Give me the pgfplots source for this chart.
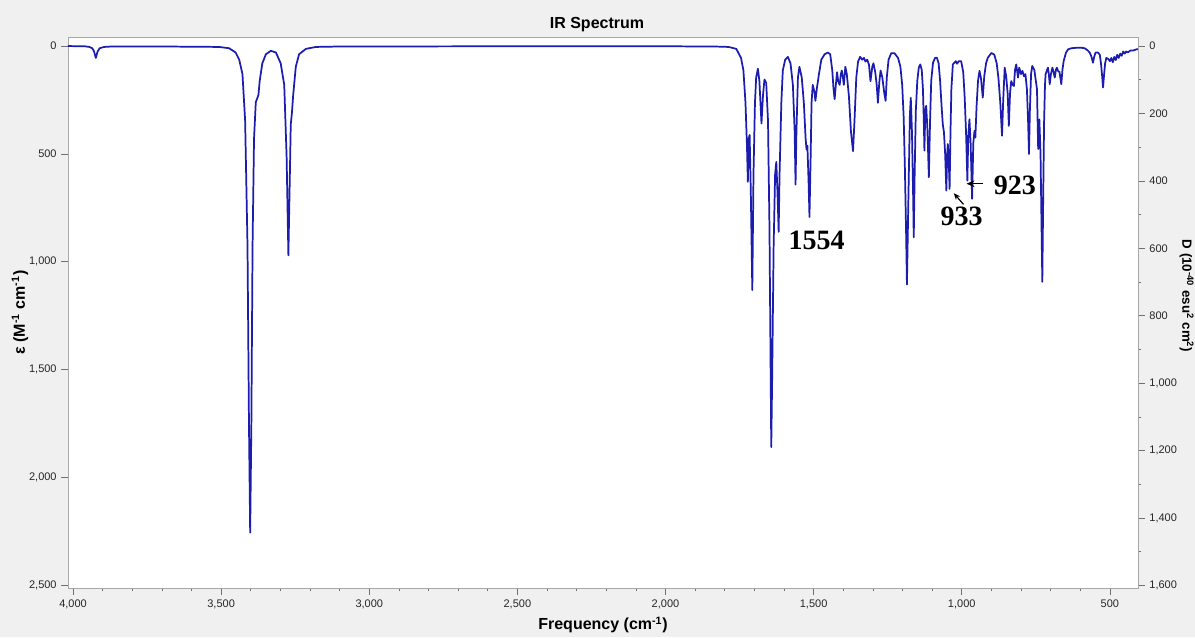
\documentclass[border=0pt]{standalone}
\usepackage{pgfplots}
\usepackage{pgfplotstable}
\pgfplotsset{compat=1.18}
\usepackage{fontspec}
\setmainfont{Liberation Sans}
\newfontfamily\annfont{Liberation Serif}
\usetikzlibrary{arrows.meta}
\definecolor{bg}{HTML}{F0F0F0}
\definecolor{spec}{HTML}{1C1CAE}
\definecolor{axgray}{HTML}{A8A8A8}
\definecolor{tickgray}{HTML}{707070}

\pgfplotstableread{
nu eps
4017 0
3960 1
3945 4
3935 10
3929 25
3925 45
3923 55
3921 45
3917 25
3910 10
3895 4
3870 2
3700 2
3600 3
3507 4
3473 10
3451 30
3439 63
3428 130
3419 346
3411 928
3406 1760
3402 2255
3398 1760
3394 928
3389 429
3383 260
3377 238
3374 226
3370 163
3361 80
3349 38
3332 22
3315 30
3299 80
3287 180
3279 512
3273 970
3268 595
3265 363
3261 309
3257 230
3248 96
3237 38
3214 13
3180 4
3100 2
2500 1
2000 1
1850 2
1800 3
1784 5
1761 13
1745 55
1737 113
1730 263
1725 462
1722 629
1719 429
1716 412
1712 678
1707 1131
1703 595
1698 263
1694 146
1688 105
1683 163
1676 359
1671 230
1666 155
1660 171
1654 346
1649 845
1643 1859
1640 1543
1635 928
1630 595
1626 537
1622 678
1618 861
1615 595
1609 263
1604 113
1596 63
1587 50
1578 80
1570 180
1564 396
1561 642
1558 396
1553 146
1548 96
1540 146
1533 263
1527 429
1524 479
1521 462
1517 629
1514 792
1510 512
1507 263
1503 180
1497 213
1494 254
1489 196
1482 130
1474 63
1463 38
1452 30
1444 38
1437 113
1433 196
1429 246
1426 196
1421 121
1417 163
1412 180
1408 130
1405 113
1401 146
1398 180
1393 96
1388 130
1381 230
1374 396
1367 487
1362 346
1356 146
1350 72
1343 50
1336 63
1330 55
1325 72
1319 63
1313 88
1308 163
1302 96
1298 80
1292 121
1287 180
1283 263
1278 163
1274 113
1268 146
1262 213
1257 254
1253 146
1247 63
1238 33
1227 33
1215 55
1207 96
1201 180
1196 330
1192 560
1188 850
1185 1105
1180 700
1175 316
1172 240
1168 400
1164 700
1162 886
1159 600
1155 300
1150 160
1145 100
1140 85
1135 110
1131 200
1128 350
1126 485
1123 300
1120 277
1116 380
1111 608
1107 350
1103 160
1097 77
1090 55
1084 54
1078 80
1073 162
1068 280
1064 362
1060 400
1056 500
1052 670
1049 500
1047 454
1044 520
1041 662
1038 400
1035 200
1030 85
1020 70
1016 82
1010 70
1002 70
995 120
990 239
985 420
981 624
978 420
974 339
970 450
965 708
961 450
957 393
954 424
950 280
945 160
940 115
935 150
929 239
924 140
918 80
912 54
900 32
890 40
882 80
876 150
870 260
864 416
860 250
855 100
850 140
845 220
841 370
837 220
833 162
828 180
824 185
820 110
816 85
810 146
806 100
800 130
795 115
790 140
785 130
780 200
776 350
773 500
770 300
766 130
762 92
755 110
750 160
746 200
744 340
742 477
738 340
734 500
730 900
728 1093
725 700
722 350
719 180
717 131
712 110
709 100
706 130
703 177
699 130
694 100
690 120
686 146
682 110
679 100
675 115
670 120
664 177
660 110
656 70
648 30
641 15
630 10
613 8
595 8
585 10
575 20
568 30
562 50
557 77
553 50
548 30
540 30
534 40
530 80
526 140
523 192
520 140
516 80
512 55
505 60
500 70
495 55
490 75
485 50
480 65
475 40
470 55
465 35
460 45
455 25
450 35
445 25
440 30
430 20
420 20
410 15
405 15
}\spectrum

\begin{document}
\begin{tikzpicture}
\fill[bg] (0,0) rectangle (896.25pt,477.75pt);
\useasboundingbox (0,0) rectangle (896.25pt,477.75pt);
\begin{axis}[
  at={(51pt,36.75pt)}, anchor=south west,
  scale only axis, width=802.5pt, height=413.25pt,
  x dir=reverse, y dir=reverse,
  xmin=405, xmax=4017, ymin=-42, ymax=2512,
  axis background/.style={fill=white},
  axis line style={draw=axgray, line width=0.6pt},
  xtick pos=left, ytick pos=left,
  tick align=outside,
  major tick length=5pt, minor tick length=2.5pt,
  tick style={draw=tickgray, line width=0.5pt},
  xtick={500,1000,...,4000}, minor x tick num=4,
  ytick={0,500,...,2500},
  tick label style={font=\fontsize{8.25}{10}\selectfont, text=black!85},
  /pgf/number format/1000 sep={,},
  /pgf/number format/assume math mode=true,
  xlabel={Frequency (cm\textsuperscript{-1})},
  xlabel style={font=\fontsize{12}{14}\selectfont\bfseries, at={(axis description cs:0.5,-0.0672)}, anchor=center},
  ylabel={ε (M\textsuperscript{-1} cm\textsuperscript{-1})},
  ylabel style={font=\fontsize{12}{14}\selectfont\bfseries, at={(axis description cs:-0.0449,0.5)}, anchor=center},
]
\addplot[spec, line width=1.3pt, line join=round] table[x=nu, y=eps] {\spectrum};
\node[font=\annfont\bfseries\fontsize{21}{24}\selectfont] at (axis cs:1490,901) {1554};
\node[font=\annfont\bfseries\fontsize{21}{24}\selectfont] at (axis cs:1000,790) {933};
\node[font=\annfont\bfseries\fontsize{21}{24}\selectfont] at (axis cs:821,644) {923};
\draw[-{Stealth[length=6pt,width=5pt]}, line width=1pt] (axis cs:928,638) -- (axis cs:984,638);
\draw[-{Stealth[length=5pt,width=4pt]}, line width=0.9pt] (axis cs:994,734) -- (axis cs:1027,682);
\end{axis}
\begin{axis}[
  at={(51pt,36.75pt)}, anchor=south west,
  scale only axis, width=802.5pt, height=413.25pt,
  x dir=reverse, y dir=reverse,
  xmin=405, xmax=4017, ymin=-26.88, ymax=1607.68,
  axis x line=none, axis y line*=right,
  axis line style={draw=axgray, line width=0.6pt},
  tick align=outside,
  major tick length=5pt, minor tick length=2.5pt,
  tick style={draw=tickgray, line width=0.5pt},
  ytick={0,200,...,1600}, minor y tick num=1,
  tick label style={font=\fontsize{8.25}{10}\selectfont, text=black!85},
  /pgf/number format/1000 sep={,},
  /pgf/number format/assume math mode=true,
]
\end{axis}
\node[font=\fontsize{12}{14}\selectfont\bfseries] at (447.75pt,459pt) {IR Spectrum};
\node[rotate=-90, anchor=north, inner sep=0pt, font=\fontsize{10}{12}\selectfont\bfseries] at (895.5pt,255.75pt) {D (10\textsuperscript{-40} esu\textsuperscript{2} cm\textsuperscript{2})};
\end{tikzpicture}
\end{document}
